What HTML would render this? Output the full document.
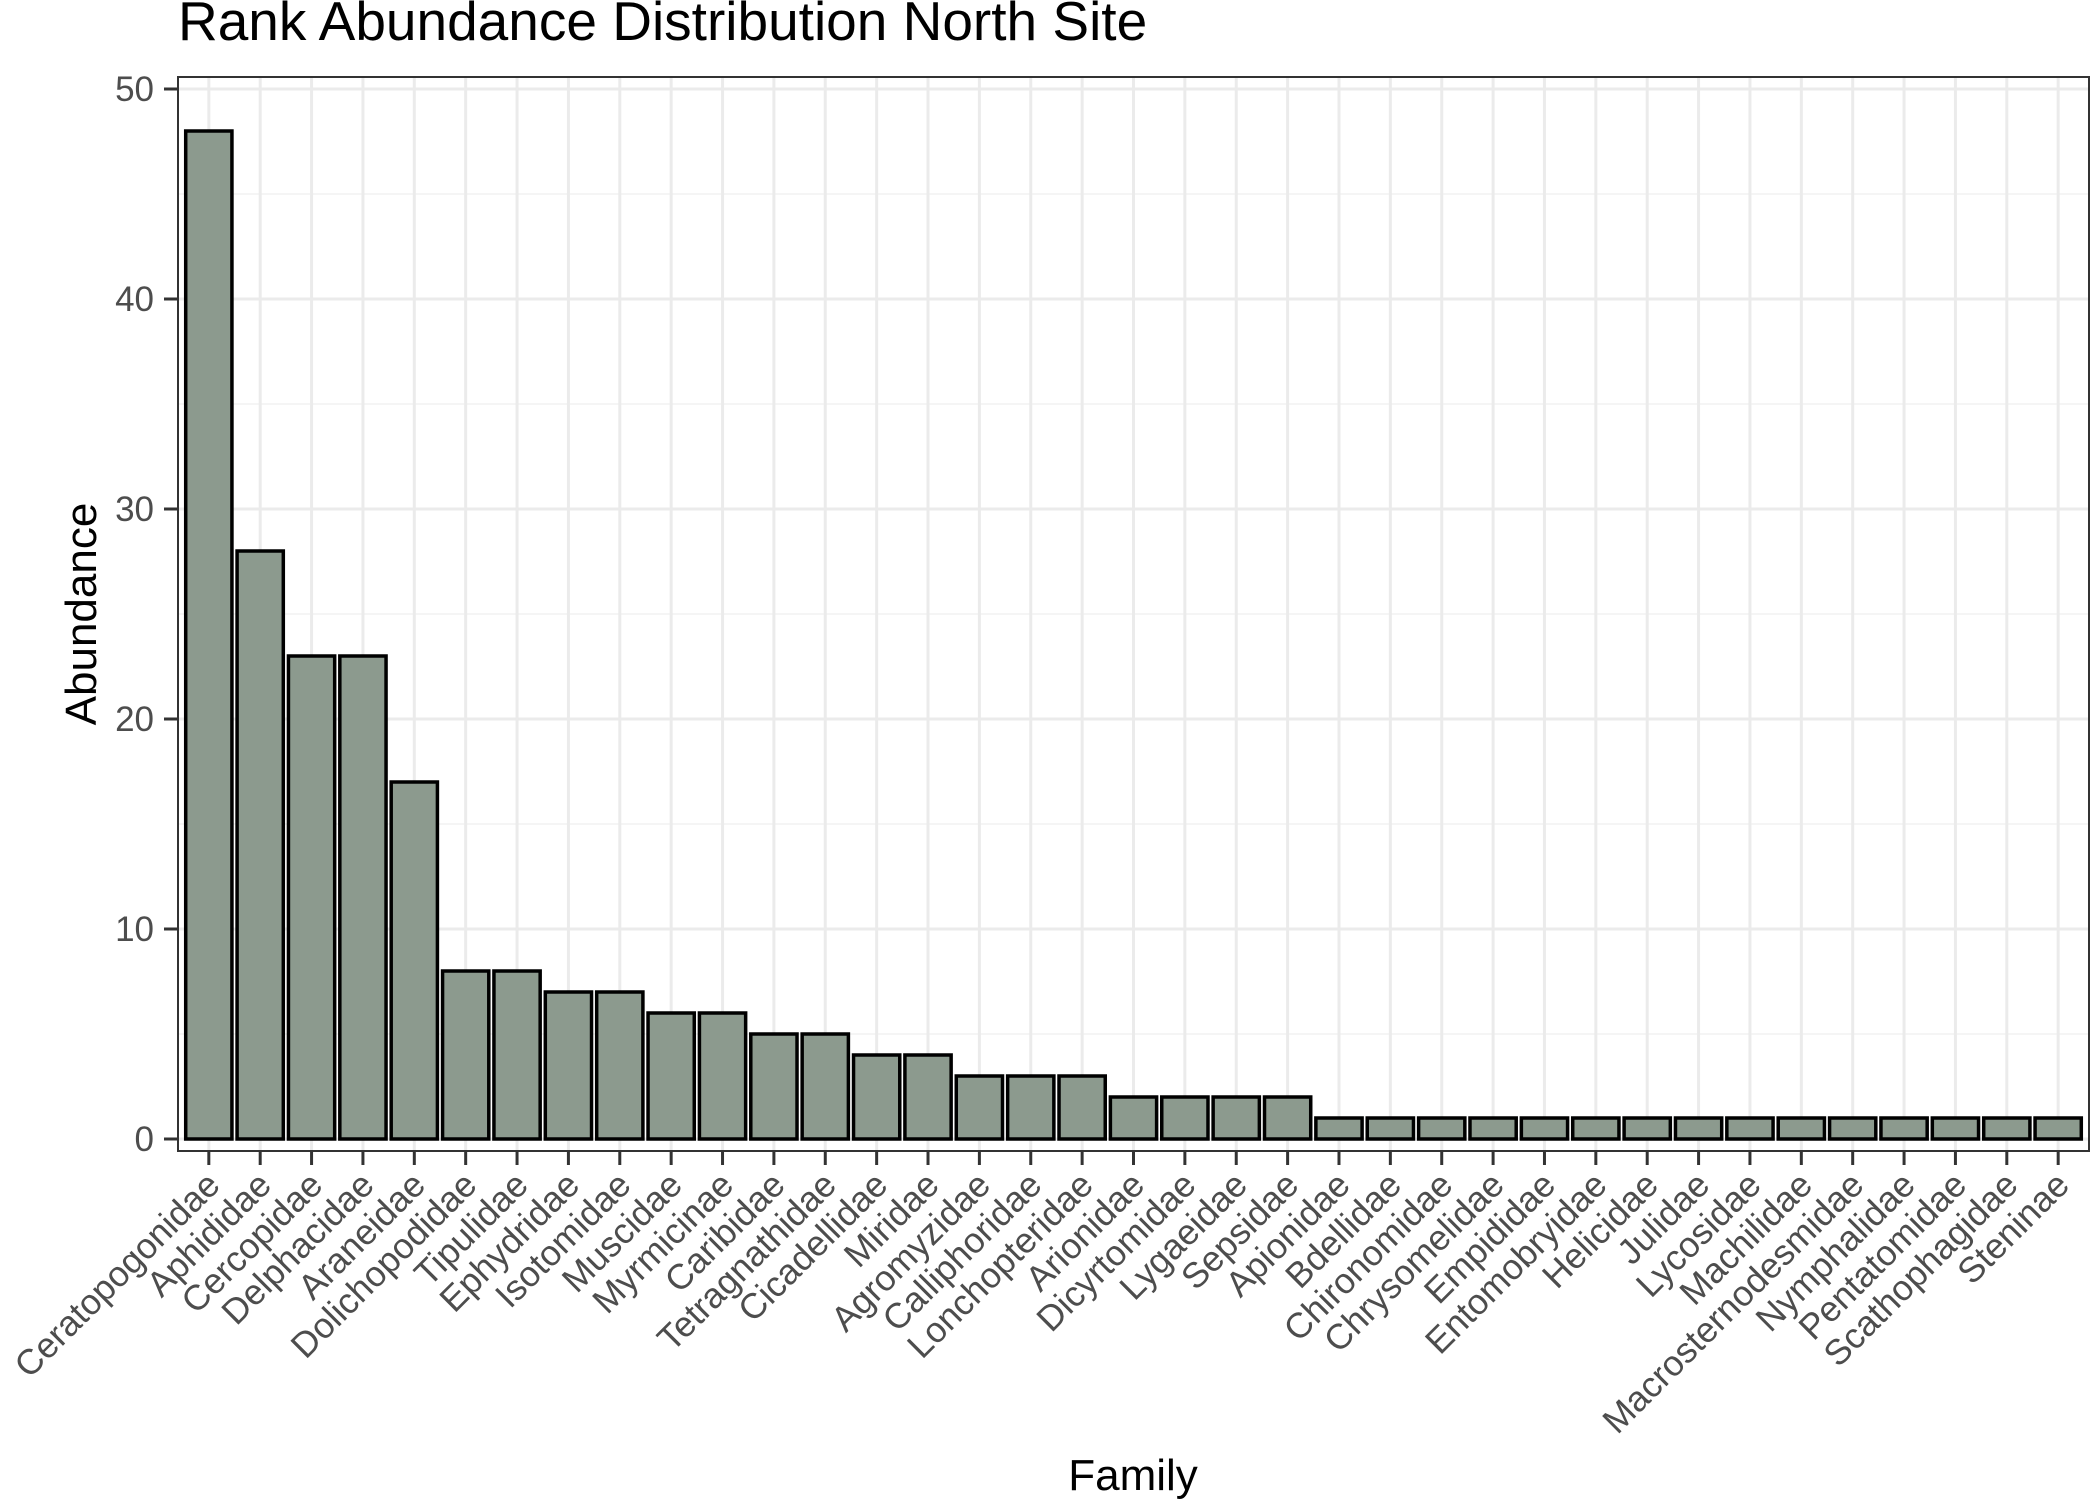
<!DOCTYPE html>
<html><head><meta charset="utf-8"><style>
body{margin:0;background:#fff}
svg{display:block;font-family:"Liberation Sans",Arial,sans-serif}
</style></head><body>
<svg id="chart" width="2100" height="1500" viewBox="0 0 2100 1500" xmlns="http://www.w3.org/2000/svg">
<rect width="2100" height="1500" fill="#fff"/>
<text x="178" y="40" font-size="55" fill="#000">Rank Abundance Distribution North Site</text>
<g id="grid"></g><g id="bars"></g><g id="axes"></g>
<text x="1133" y="1490" font-size="44" text-anchor="middle" fill="#000">Family</text>
<text transform="translate(96,614) rotate(-90)" font-size="44" text-anchor="middle" fill="#000">Abundance</text>
</svg>
<script>
const categories = ["Ceratopogonidae","Aphididae","Cercopidae","Delphacidae","Araneidae","Dolichopodidae","Tipulidae","Ephydridae","Isotomidae","Muscidae","Myrmicinae","Caribidae","Tetragnathidae","Cicadellidae","Miridae","Agromyzidae","Calliphoridae","Lonchopteridae","Arionidae","Dicyrtomidae","Lygaeidae","Sepsidae","Apionidae","Bdellidae","Chironomidae","Chrysomelidae","Empididae","Entomobryidae","Helicidae","Julidae","Lycosidae","Machilidae","Macrosternodesmidae","Nymphalidae","Pentatomidae","Scathophagidae","Steninae"];
const abundance = [48,28,23,23,17,8,8,7,7,6,6,5,5,4,4,3,3,3,2,2,2,2,1,1,1,1,1,1,1,1,1,1,1,1,1,1,1];
const yTicks = [0,10,20,30,40,50];
const yMinor = [5,15,25,35,45];

const NS="http://www.w3.org/2000/svg";
const L=178,R=2089,T=77,B=1151;
const y0=1139, y50=89;
function yScale(v){return y0+(y50-y0)*v/50;}
const step=(R-L)/(categories.length-1+1.2);
function xScale(i){return L+step*(0.6+i);}
function mk(tag,attrs,parent){const e=document.createElementNS(NS,tag);for(const k in attrs)e.setAttribute(k,attrs[k]);parent.appendChild(e);return e;}
const grid=document.getElementById('grid'),bars=document.getElementById('bars'),axes=document.getElementById('axes');
yMinor.forEach(v=>{const l=mk('line',{x1:L,x2:R,y1:yScale(v),y2:yScale(v),stroke:'#f2f2f2','stroke-width':1.5},grid);

});
yTicks.forEach(v=>{const l=mk('line',{x1:L,x2:R,y1:yScale(v),y2:yScale(v),stroke:'#ebebeb','stroke-width':3},grid);


const t=mk('line',{x1:164,x2:L,y1:yScale(v),y2:yScale(v),stroke:'#333','stroke-width':3},axes);


const tx=mk('text',{x:154,y:yScale(v)+12,'font-size':35,'text-anchor':'end',fill:'#4d4d4d'},axes);
tx.textContent=v;

});
categories.forEach((c,i)=>{const x=xScale(i);
const g=mk('line',{x1:x,x2:x,y1:T,y2:B,stroke:'#ebebeb','stroke-width':3},grid);


const w=step*0.9;const yt=yScale(abundance[i]);
const b=mk('rect',{x:x-w/2,y:yt,width:w,height:y0-yt,fill:'#8c9a8e',stroke:'#000','stroke-width':3.5},bars);


const t=mk('line',{x1:x,x2:x,y1:B,y2:B+14,stroke:'#333','stroke-width':3},axes);


const tx=mk('text',{transform:`translate(${x+13},${B+36}) rotate(-45)`,'font-size':35.5,'text-anchor':'end',fill:'#4d4d4d'},axes);
tx.textContent=c;

});
const p=mk('rect',{x:L,y:T,width:R-L,height:B-T,fill:'none',stroke:'#333','stroke-width':2},axes);


</script>
</body></html>
